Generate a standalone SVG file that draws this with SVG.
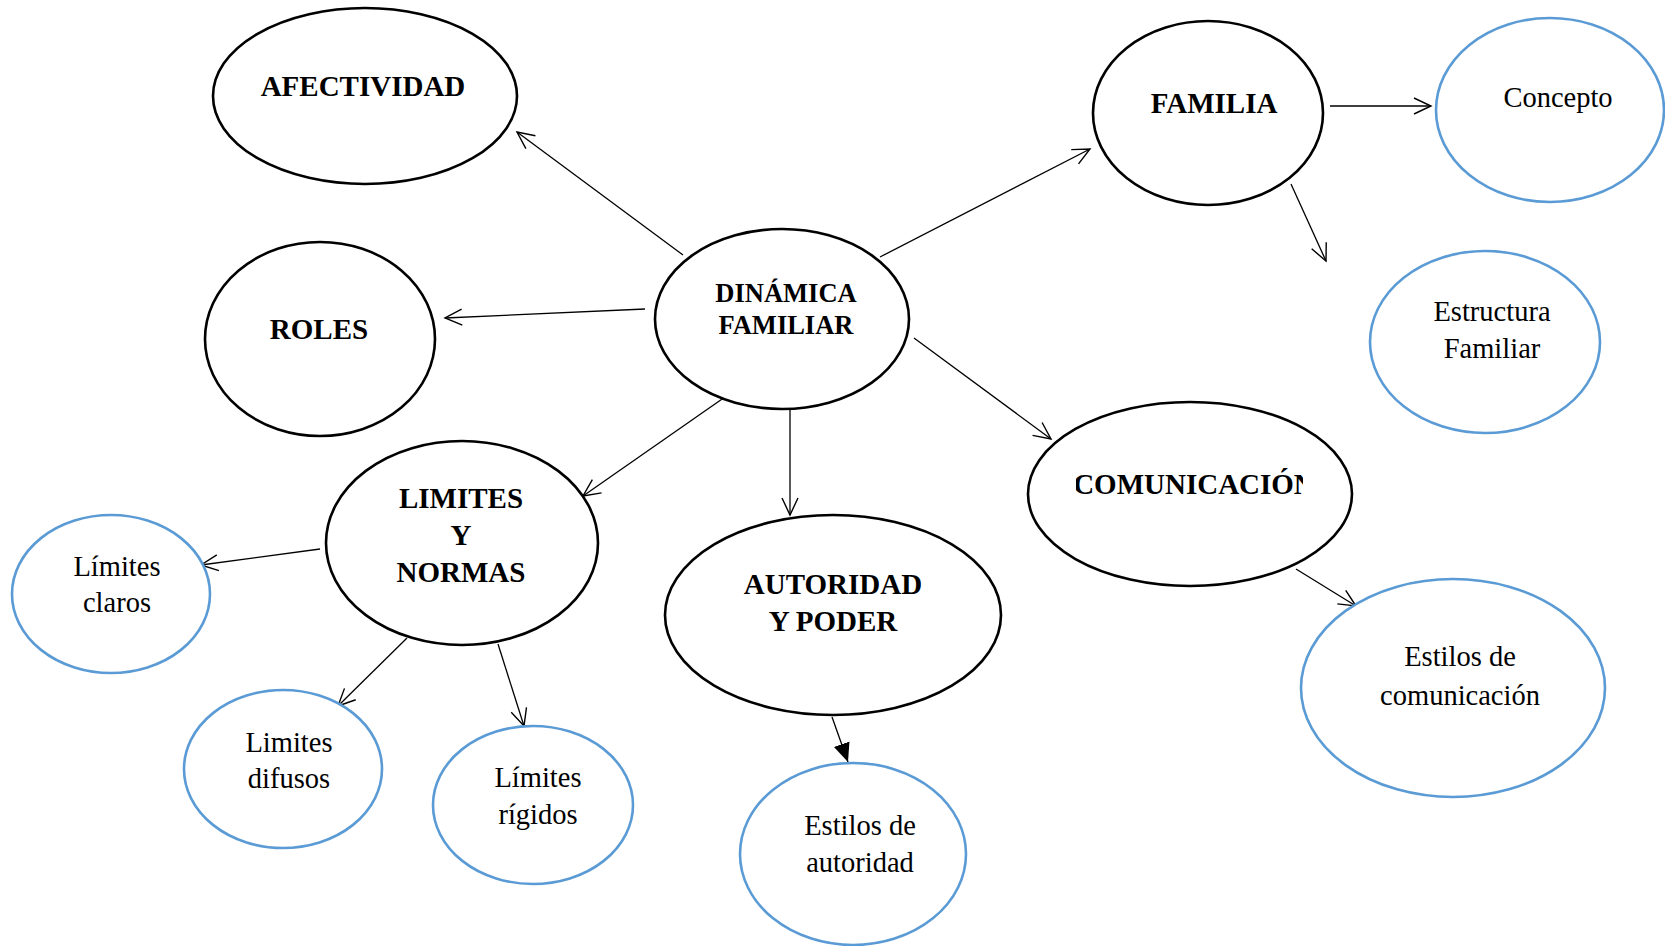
<svg xmlns="http://www.w3.org/2000/svg" width="1665" height="946" viewBox="0 0 1665 946">
<style>
.main{fill:#fff;stroke:#000;stroke-width:2.6}
.sub{fill:#fff;stroke:#5B9BD5;stroke-width:2.6}
.bt{font-family:"Liberation Serif","Times New Roman",serif;font-weight:bold;font-size:29px;fill:#000;text-anchor:middle}
.bs{font-size:26.5px}
.rt{font-family:"Liberation Serif","Times New Roman",serif;font-size:28.5px;fill:#000;text-anchor:middle}
.con{stroke:#000;stroke-width:1.3;fill:none}
</style>
<defs>
<marker id="open" markerUnits="userSpaceOnUse" markerWidth="24" markerHeight="20" viewBox="-18 -10 20 20" refX="0" refY="0" orient="auto">
<path d="M-17,-8 L0,0 L-17,8" fill="none" stroke="#000" stroke-width="1.4"/>
</marker>
<marker id="solid" markerUnits="userSpaceOnUse" markerWidth="20" markerHeight="20" viewBox="-16 -8 17 16" refX="0" refY="0" orient="auto">
<path d="M-16,-7 L0,0 L-16,7 Z" fill="#000"/>
</marker>
<clipPath id="comClip"><rect x="1076" y="450" width="227" height="60"/></clipPath>
</defs>
<g id="connectors">
<line class="con" x1="683" y1="255" x2="517" y2="132" marker-end="url(#open)"/>
<line class="con" x1="645" y1="309" x2="445" y2="318" marker-end="url(#open)"/>
<line class="con" x1="880" y1="257" x2="1090" y2="149" marker-end="url(#open)"/>
<line class="con" x1="914" y1="338" x2="1051" y2="439" marker-end="url(#open)"/>
<line class="con" x1="790" y1="409" x2="790" y2="515" marker-end="url(#open)"/>
<line class="con" x1="725" y1="397" x2="583" y2="496" marker-end="url(#open)"/>
<line class="con" x1="1330" y1="106" x2="1431" y2="106" marker-end="url(#open)"/>
<line class="con" x1="1291" y1="184" x2="1326" y2="261" marker-end="url(#open)"/>
<line class="con" x1="320" y1="549" x2="201" y2="565" marker-end="url(#open)"/>
<line class="con" x1="407" y1="638" x2="338" y2="706" marker-end="url(#open)"/>
<line class="con" x1="498" y1="644" x2="524" y2="726" marker-end="url(#open)"/>
<line class="con" x1="832" y1="717" x2="848" y2="762" stroke-width="2" marker-end="url(#solid)"/>
<line class="con" x1="1296" y1="569" x2="1356" y2="606" marker-end="url(#open)"/>
</g>
<g id="afectividad"><ellipse class="main" cx="365" cy="96" rx="152" ry="88"/><text class="bt" x="363" y="96">AFECTIVIDAD</text></g>
<g id="roles"><ellipse class="main" cx="320" cy="339" rx="115" ry="97"/><text class="bt" x="319" y="339">ROLES</text></g>
<g id="dinamica"><ellipse class="main" cx="782" cy="319" rx="127" ry="90"/><text class="bt bs" x="786" y="302">DINÁMICA</text><text class="bt bs" x="786" y="334">FAMILIAR</text></g>
<g id="familia"><ellipse class="main" cx="1208" cy="113" rx="115" ry="92"/><text class="bt" x="1214" y="113">FAMILIA</text></g>
<g id="concepto"><ellipse class="sub" cx="1550" cy="110" rx="114" ry="92"/><text class="rt" x="1558" y="107">Concepto</text></g>
<g id="estructura"><ellipse class="sub" cx="1485" cy="342" rx="115" ry="91"/><text class="rt" x="1492" y="321">Estructura</text><text class="rt" x="1492" y="358">Familiar</text></g>
<g id="comunicacion"><ellipse class="main" cx="1190" cy="494" rx="162" ry="92"/><text class="bt" x="1194" y="494" clip-path="url(#comClip)">COMUNICACIÓN</text></g>
<g id="estilos-com"><ellipse class="sub" cx="1453" cy="688" rx="152" ry="109"/><text class="rt" x="1460" y="666">Estilos de</text><text class="rt" x="1460" y="705">comunicación</text></g>
<g id="limites"><ellipse class="main" cx="462" cy="543" rx="136" ry="102"/><text class="bt" x="461" y="508">LIMITES</text><text class="bt" x="461" y="545">Y</text><text class="bt" x="461" y="582">NORMAS</text></g>
<g id="limites-claros"><ellipse class="sub" cx="111" cy="594" rx="99" ry="79"/><text class="rt" x="117" y="576">Límites</text><text class="rt" x="117" y="612">claros</text></g>
<g id="limites-difusos"><ellipse class="sub" cx="283" cy="769" rx="99" ry="79"/><text class="rt" x="289" y="752">Limites</text><text class="rt" x="289" y="788">difusos</text></g>
<g id="limites-rigidos"><ellipse class="sub" cx="533" cy="805" rx="100" ry="79"/><text class="rt" x="538" y="787">Límites</text><text class="rt" x="538" y="824">rígidos</text></g>
<g id="autoridad"><ellipse class="main" cx="833" cy="615" rx="168" ry="100"/><text class="bt" x="833" y="594">AUTORIDAD</text><text class="bt" x="833" y="631">Y PODER</text></g>
<g id="estilos-aut"><ellipse class="sub" cx="853" cy="854" rx="113" ry="91"/><text class="rt" x="860" y="835">Estilos de</text><text class="rt" x="860" y="872">autoridad</text></g>
</svg>
